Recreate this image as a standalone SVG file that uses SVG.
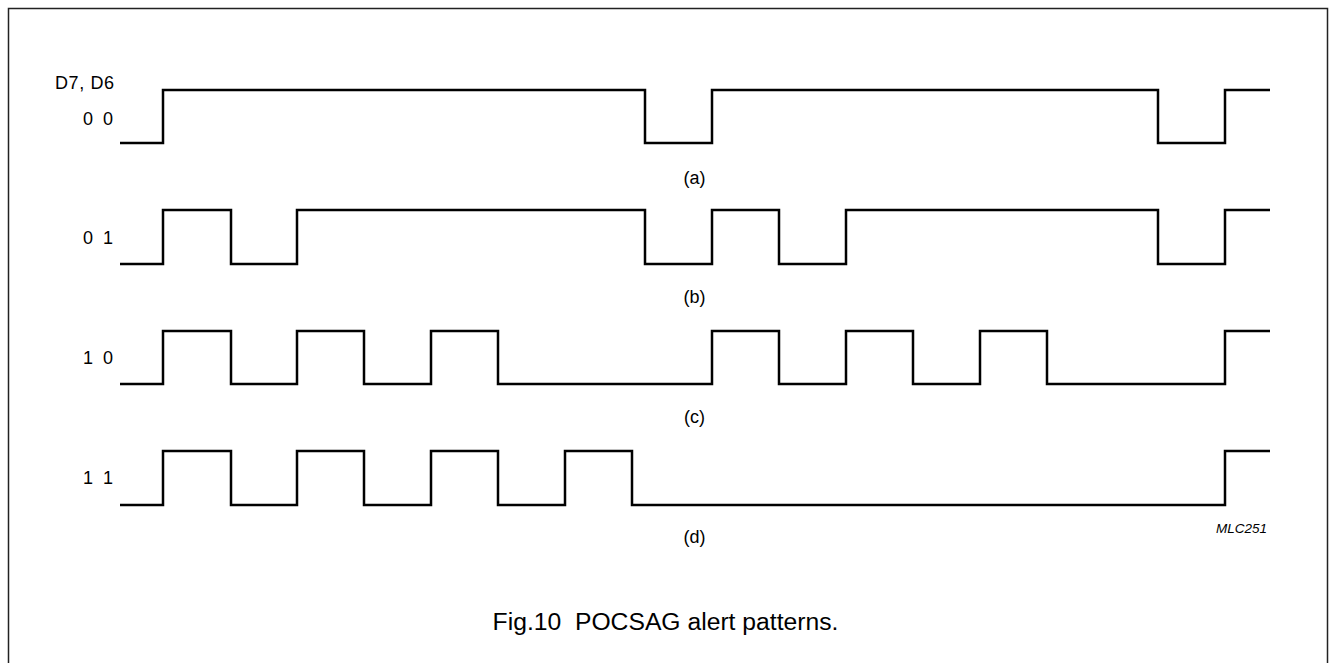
<svg xmlns="http://www.w3.org/2000/svg" width="1329" height="663" viewBox="0 0 1329 663">
<style>
.w{fill:none;stroke:#000;stroke-width:2.5;stroke-linejoin:miter;stroke-linecap:butt}
.t{font-family:"Liberation Sans",Arial,sans-serif;font-size:18px;fill:#000}
.m{text-anchor:middle}
.e{text-anchor:end}
</style>
<rect x="8.5" y="8.5" width="1319" height="670" fill="#fff" stroke="#222" stroke-width="1.5"/>
<g id="labels">
<text class="t" x="55" y="89" textLength="59">D7, D6</text>
<text class="t e" x="113" y="124.5" xml:space="preserve">0  0</text>
<text class="t e" x="113" y="244" xml:space="preserve">0  1</text>
<text class="t e" x="113" y="364" xml:space="preserve">1  0</text>
<text class="t e" x="113" y="484" xml:space="preserve">1  1</text>
</g>
<g id="connectors">
<path id="wave-a" class="w" d="M120,143 H163 V90 H645 V143 H712 V90 H1158 V143 H1225 V90 H1270"/>
<path id="wave-b" class="w" d="M120,264 H163 V210 H231 V264 H297 V210 H645 V264 H712 V210 H779 V264 H846 V210 H1158 V264 H1225 V210 H1270"/>
<path id="wave-c" class="w" d="M120,384 H163 V331 H231 V384 H297 V331 H364 V384 H431 V331 H498 V384 H712 V331 H779 V384 H846 V331 H913 V384 H980 V331 H1047 V384 H1225 V331 H1270"/>
<path id="wave-d" class="w" d="M120,505 H163 V451 H231 V505 H297 V451 H364 V505 H431 V451 H498 V505 H565 V451 H632 V505 H1225 V451 H1270"/>
</g>
<g id="captions">
<text class="t m" x="694.5" y="184">(a)</text>
<text class="t m" x="694.5" y="303">(b)</text>
<text class="t m" x="694.5" y="423">(c)</text>
<text class="t m" x="694.5" y="543">(d)</text>
<text class="t e" x="1267" y="533" style="font-size:13.5px;font-style:italic">MLC251</text>
<text class="t m" x="665.5" y="630" style="font-size:24.7px" xml:space="preserve">Fig.10  POCSAG alert patterns.</text>
</g>
</svg>
